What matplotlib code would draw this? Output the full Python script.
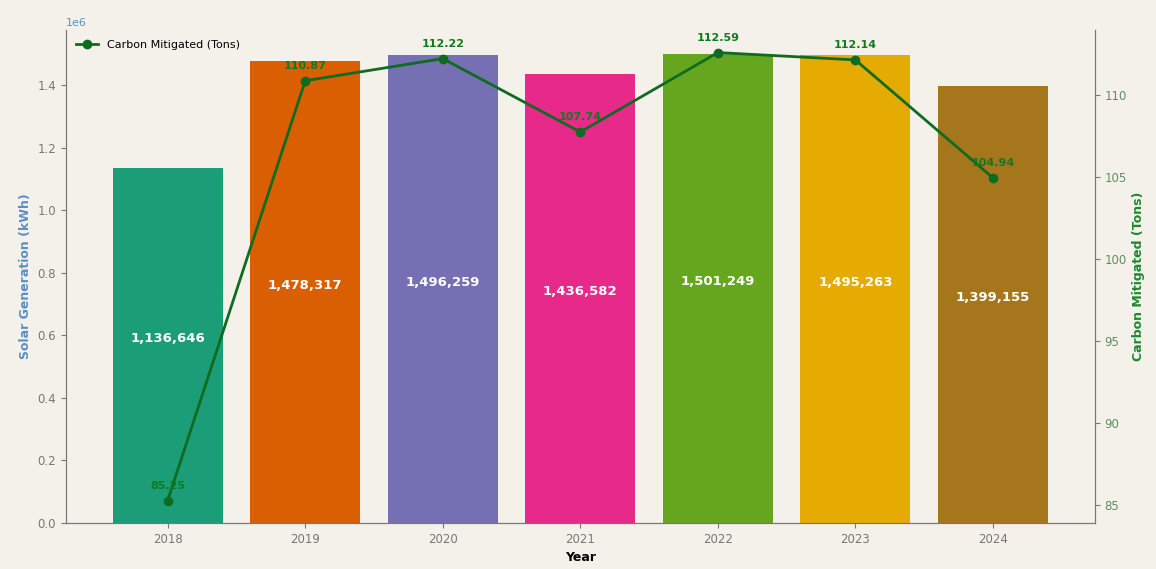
import numpy as np
import matplotlib.pyplot as plt

# data
years = ["2018", "2019", "2020", "2021", "2022", "2023", "2024"]
solar_kwh = [1136646, 1478317, 1496259, 1436582, 1501249, 1495263, 1399155]
carbon_tons = [85.25, 110.87, 112.22, 107.74, 112.59, 112.14, 104.94]

bar_colors = plt.get_cmap("Dark2").colors[:len(years)]
bg = "#f4f1eb"

fig = plt.figure(figsize=(11.56, 5.69), dpi=100, facecolor=bg)
ax1 = fig.add_axes([0.057, 0.081, 0.89, 0.866], facecolor=bg)

x = np.arange(len(years))
bars = ax1.bar(x, solar_kwh, width=0.8, color=bar_colors)
ax1.set_ylim(0, max(solar_kwh) * 1.05)

# value labels inside bars
for b, v in zip(bars, solar_kwh):
    ax1.text(b.get_x() + b.get_width() / 2, v / 2, f"{v:,}",
             ha="center", va="bottom", color="white", fontsize=9.5, fontweight="bold")

ax1.set_xticks(x)
ax1.set_xticklabels(years)
ax1.set_xlabel("Year", fontsize=9, fontweight="bold", labelpad=4)
ax1.set_ylabel("Solar Generation (kWh)", color="#5b8fc2", fontsize=9, fontweight="bold")
ax1.tick_params(axis="both", colors="#777777", labelsize=8.5)
ax1.yaxis.get_offset_text().set_color("#5b8fc2")
ax1.yaxis.get_offset_text().set_fontsize(8)

for s in ["top"]:
    ax1.spines[s].set_visible(False)
for s in ["left", "bottom", "right"]:
    ax1.spines[s].set_color("#777777")

# carbon line on second axis
ax2 = ax1.twinx()
ax2.plot(x, carbon_tons, color="#0f6b1f", marker="o", markersize=6,
         linewidth=2, label="Carbon Mitigated (Tons)")
for xi, c in zip(x, carbon_tons):
    ax2.annotate(f"{c:.2f}", (xi, c), xytext=(0, 7), textcoords="offset points",
                 ha="center", va="bottom", color="#0f7a1f", fontsize=8, fontweight="bold")

ax2.set_ylabel("Carbon Mitigated (Tons)", color="#1b8a2b", fontsize=9, fontweight="bold")
ax2.tick_params(axis="y", colors="#777777", labelcolor="#5f8f5f", labelsize=8.5)
ax2.spines["top"].set_visible(False)
for s in ["left", "bottom", "right"]:
    ax2.spines[s].set_color("#777777")

ax2.legend(loc="upper left", frameon=False, fontsize=8)

fig.savefig("out.png", dpi=100, facecolor=bg)
